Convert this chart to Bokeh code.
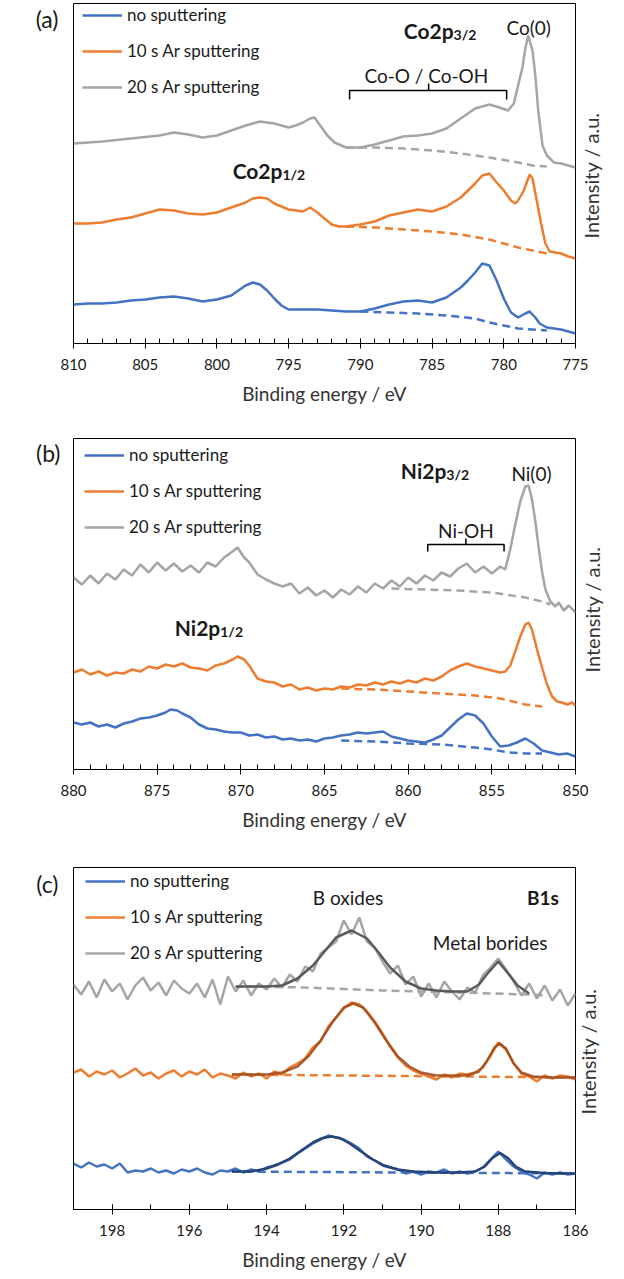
import math
from bokeh.plotting import figure
from bokeh.models import Range1d, Label, Legend, LegendItem, SingleIntervalTicker, LinearAxis, FixedTicker
from bokeh.layouts import column
from bokeh.embed import file_html
from bokeh.resources import INLINE

FONT = "Lato"
BLUE, ORANGE, GRAY = "#4472C4", "#ED7D31", "#A5A5A5"
BLUE_FIT, ORANGE_FIT, GRAY_FIT = "#264478", "#9C4A1A", "#5A5A5A"
series_labels = ["no sputtering", "10 s Ar sputtering", "20 s Ar sputtering"]
y_title = "Intensity  / a.u."

# ---------------- panel (a) Co2p ----------------
a_blue_be = [810, 809, 808, 807, 806, 805, 804, 803, 802, 801, 800, 799, 798.5, 798, 797.5, 797, 796.5, 796, 795.5, 795,
             794, 793, 792, 791, 790, 789, 788, 787, 786, 785, 784, 783, 782.5, 782, 781.5, 781, 780.5, 780, 779.5, 779,
             778.5, 778.2, 777.8, 777.5, 777, 776, 775]
a_blue_int = [39, 40, 40, 41, 43, 44, 46, 47, 45, 42, 44, 48, 53, 58, 61, 59, 53, 45, 38, 34,
              34, 34, 33, 32, 32, 35, 39, 42, 43, 41, 46, 56, 63, 71, 80, 78, 63, 45, 31, 26,
              30, 32, 26, 20, 16, 14, 10]
a_blue_bg_be = [790, 788, 786, 784, 782, 781, 780, 779, 778, 777]
a_blue_bg_int = [32, 31, 30, 28, 25, 21, 18, 15, 14, 13]

a_orange_be = [810, 809, 808, 807, 806, 805, 804, 803, 802, 801, 800, 799, 798, 797.5, 797, 796.5, 796, 795, 794, 793.5,
               793, 792.5, 792, 791.5, 791, 790, 789, 788, 787, 786, 785, 784, 783, 782, 781.5, 781, 780.5, 780, 779.5, 779.2,
               779, 778.6, 778.2, 778, 777.7, 777.4, 777.1, 776.8, 776, 775.5, 775]
a_orange_int = [120, 120, 121, 124, 126, 130, 134, 133, 130, 129, 131, 136, 141, 145, 146, 145, 140, 134, 132, 136,
                131, 125, 119, 117, 117, 119, 122, 128, 131, 134, 132, 137, 146, 160, 168, 170, 161, 153, 143, 140,
                143, 153, 169, 165, 143, 120, 100, 92, 90, 87, 85]
a_orange_bg_be = [791, 789, 787, 785, 783, 781, 779, 778, 777]
a_orange_bg_int = [117, 116, 114, 112, 109, 104, 96, 93, 90]

a_gray_be = [810, 808, 806, 804, 803, 802, 801, 800, 799, 798, 797, 796, 795, 794.5, 794, 793.5, 793.2, 792.8, 792.3, 791.8,
             791, 790, 789, 788, 787, 786, 785, 784, 783, 782, 781, 780.3, 779.7, 779.3, 779, 778.7, 778.5, 778.3, 778, 777.8,
             777.6, 777.3, 777, 776.5, 776, 775.5, 775]
a_gray_int = [200, 202, 205, 208, 211, 209, 206, 208, 213, 218, 222, 220, 216, 218, 221, 225, 226, 218, 208, 201,
              196, 196, 199, 203, 207, 208, 210, 215, 225, 235, 239, 236, 233, 240, 258, 276, 295, 308, 293, 268,
              233, 198, 188, 181, 180, 178, 176]
a_gray_bg_be = [791, 789, 787, 785, 783, 781, 779, 778, 777]
a_gray_bg_int = [196, 196, 195, 193, 190, 186, 181, 178, 177]

a_bracket_be = [790.75, 790.75, 785.24, 785.24, 785.24, 779.8, 779.8]
a_bracket_int = [244, 253, 253, 260, 253, 253, 244]

# ---------------- panel (b) Ni2p ----------------
b_gray_be = [880, 879.5, 879, 878.5, 878, 877.5, 877, 876.5, 876, 875.5, 875, 874.5, 874, 873.5, 873, 872.5, 872, 871.5, 871, 870.5,
             870.2, 869.8, 869.5, 869, 868.5, 868, 867.5, 867, 866.5, 866, 865.5, 865, 864.5, 864, 863.5, 863, 862.5, 862, 861.5, 861,
             860.5, 860, 859.5, 859, 858.5, 858, 857.5, 857, 856.5, 856, 855.5, 855, 854.5, 854.2, 853.9, 853.6, 853.3, 853.0, 852.8, 852.6,
             852.4, 852.2, 852.0, 851.8, 851.5, 851.2, 851.0, 850.7, 850.4, 850.0]
b_gray_int = [192, 185, 194, 186, 196, 190, 200, 194, 205, 197, 207, 199, 206, 198, 204, 197, 207, 203, 212, 218,
              222, 212, 207, 195, 190, 186, 183, 186, 176, 182, 174, 179, 172, 180, 175, 183, 177, 186, 181, 189,
              183, 192, 186, 194, 189, 197, 193, 201, 206, 197, 203, 196, 203, 200, 220, 245, 268, 283, 284, 270,
              248, 222, 198, 180, 168, 163, 167, 159, 164, 157]
b_gray_bg_be = [861, 859, 857, 855, 853, 852, 851.5]
b_gray_bg_int = [181, 180, 179, 177, 172, 168, 165]

b_orange_be = [880, 879.5, 879, 878.5, 878, 877.5, 877, 876.5, 876, 875.5, 875, 874.5, 874, 873.5, 873, 872.5, 872, 871.5, 871, 870.5,
               870.2, 869.8, 869.5, 869.2, 869, 868.5, 868, 867.5, 867, 866.5, 866, 865.5, 865, 864.5, 864, 863.5, 863, 862.5, 862, 861.5,
               861, 860.5, 860, 859.5, 859, 858.5, 858, 857.5, 857, 856.5, 856, 855.5, 855, 854.5, 854.2, 853.9, 853.6, 853.3, 853.0, 852.8,
               852.6, 852.3, 852.0, 851.7, 851.4, 851.1, 850.8, 850.5, 850.2, 850]
b_orange_int = [97, 100, 95, 98, 94, 97, 96, 100, 98, 103, 101, 105, 103, 106, 102, 101, 99, 104, 106, 110,
                113, 110, 104, 96, 91, 88, 87, 83, 85, 80, 82, 79, 81, 80, 83, 82, 85, 84, 87, 85,
                88, 86, 89, 87, 91, 89, 93, 99, 103, 106, 103, 101, 99, 97, 98, 104, 118, 133, 145, 147,
                140, 120, 102, 85, 73, 68, 67, 65, 67, 64]
b_orange_bg_be = [864, 862, 860, 858, 856, 854.5, 853, 852]
b_orange_bg_int = [81, 80, 78, 76, 74, 71, 65, 63]

b_blue_be = [880, 879.5, 879, 878.5, 878, 877.5, 877, 876.5, 876, 875.5, 875, 874.5, 874.2, 873.8, 873.5, 873, 872.5, 872, 871.5, 871,
             870.5, 870, 869.5, 869, 868.5, 868, 867.5, 867, 866.5, 866, 865.5, 865, 864.5, 864, 863.5, 863, 862.5, 862, 861.5, 861,
             860.5, 860, 859.5, 859, 858.5, 858, 857.5, 857, 856.5, 856, 855.5, 855, 854.5, 854, 853.5, 853, 852.5, 852, 851.5, 851,
             850.5, 850]
b_blue_int = [47, 45, 47, 43, 45, 42, 46, 48, 51, 52, 54, 57, 60, 59, 56, 52, 45, 41, 40, 38,
              37, 37, 34, 35, 32, 33, 30, 31, 29, 30, 28, 31, 32, 34, 35, 37, 36, 37, 38, 33,
              31, 29, 28, 27, 30, 34, 42, 50, 56, 54, 46, 33, 23, 24, 27, 31, 26, 19, 17, 15,
              16, 13]
b_blue_bg_be = [864, 862, 860, 858, 856, 855, 854, 853, 852]
b_blue_bg_int = [29, 28, 26, 25, 22, 20, 17, 16, 16]

b_bracket_be = [858.83, 858.83, 856.55, 856.55, 856.55, 854.27, 854.27]
b_bracket_int = [218, 225, 225, 231, 225, 225, 218]

# ---------------- panel (c) B1s ----------------
c_be = [199.0, 198.8, 198.6, 198.4, 198.2, 198.0, 197.8, 197.6, 197.4, 197.2, 197.0, 196.8, 196.6, 196.4, 196.2, 196.0,
        195.8, 195.6, 195.4, 195.2, 195.0, 194.8, 194.6, 194.4, 194.2, 194.0, 193.8, 193.6, 193.4, 193.2, 193.0, 192.8,
        192.6, 192.4, 192.2, 192.0, 191.8, 191.6, 191.4, 191.2, 191.0, 190.8, 190.6, 190.4, 190.2, 190.0, 189.8, 189.6,
        189.4, 189.2, 189.0, 188.8, 188.6, 188.4, 188.2, 188.0, 187.8, 187.6, 187.4, 187.2, 187.0, 186.8, 186.6, 186.4,
        186.2, 186.0]
c_gray_int = [225, 215, 228, 212, 230, 218, 226, 210, 224, 232, 219, 227, 214, 229, 221, 216, 226, 212, 230, 205,
              233, 218, 229, 214, 226, 220, 231, 222, 235, 228, 243, 238, 256, 262, 268, 289, 275, 292, 268, 262,
              248, 236, 244, 225, 233, 213, 226, 212, 228, 218, 210, 222, 217, 234, 242, 251, 240, 228, 214, 226,
              211, 224, 209, 220, 204, 216]
c_orange_int = [137, 140, 133, 138, 135, 139, 132, 136, 141, 134, 137, 131, 136, 139, 133, 138, 135, 140, 132, 136,
                134, 131, 137, 133, 136, 131, 138, 135, 142, 146, 151, 162, 168, 183, 192, 201, 207, 205, 198, 188,
                176, 163, 152, 144, 139, 136, 133, 130, 135, 132, 136, 135, 137, 142, 154, 167, 160, 146, 136, 133,
                128, 134, 131, 134, 133, 130]
c_blue_int = [46, 42, 47, 43, 45, 41, 46, 37, 39, 38, 41, 37, 39, 36, 40, 38, 41, 37, 35, 39,
              38, 41, 37, 40, 38, 42, 44, 47, 50, 56, 61, 66, 70, 74, 72, 70, 66, 61, 53, 49,
              44, 42, 40, 36, 38, 35, 38, 37, 40, 36, 38, 36, 38, 42, 50, 58, 50, 43, 38, 35,
              31, 37, 35, 37, 35, 36]

c_gray_fit_be = [194.8, 194.4, 194.0, 193.6, 193.2, 192.8, 192.5, 192.2, 191.8, 191.4, 191.1, 190.8, 190.4, 190.0,
                 189.6, 189.2, 188.8, 188.5, 188.3, 188.0, 187.7, 187.5, 187.2]
c_gray_fit_int = [223, 223, 223, 224, 231, 244, 258, 272, 279, 271, 257, 242, 228, 221, 219, 218, 218, 225, 235, 248,
                  234, 224, 216]
c_gray_bg_be = [194.8, 193, 191, 189, 187.2, 186.8]
c_gray_bg_int = [223, 222, 219, 217, 215, 214]

c_orange_fit_be = [194.9, 194.4, 194.0, 193.6, 193.2, 192.9, 192.6, 192.3, 192.0, 191.75, 191.5, 191.2, 190.9, 190.6,
                   190.3, 190.0, 189.6, 189.2, 188.8, 188.5, 188.3, 188.1, 187.96, 187.8, 187.6, 187.4, 187.1, 186.6, 186.0]
c_orange_fit_int = [135, 135, 135, 137, 143, 154, 169, 187, 202, 206, 202, 187, 169, 153, 143, 137, 134, 134, 134, 138,
                    148, 162, 166, 161, 146, 137, 133, 132, 132]
c_orange_bg_be = [194.9, 186.0]
c_orange_bg_int = [135, 132]

c_blue_fit_be = [194.9, 194.4, 194.0, 193.7, 193.4, 193.1, 192.8, 192.55, 192.33, 192.1, 191.85, 191.55, 191.25, 190.95,
                 190.6, 190.2, 189.6, 189.0, 188.6, 188.35, 188.15, 187.95, 187.75, 187.55, 187.3, 186.8, 186.0]
c_blue_fit_int = [38, 38, 41, 45, 51, 59, 67, 71.5, 73, 71.5, 66, 58, 50, 44, 40, 38, 37, 37, 38, 43,
                  51.5, 56.5, 51.5, 43, 38, 36.5, 36]
c_blue_bg_be = [194.9, 186.0]
c_blue_bg_int = [38, 36]

TEXT = "#1a1a1a"
LW = 2.5
DASH = "8 5"


def base_fig(height, xr, yr, left, right, top, bottom, interval, nminor, panel_tag, tag_y, tag_standoff,
             ytitle_at, ytitle_standoff):
    p = figure(width=624, height=height, x_range=Range1d(*xr), y_range=Range1d(*yr),
               output_backend="svg", toolbar_location=None, y_axis_location=None,
               min_border_left=left, min_border_right=right, min_border_top=top, min_border_bottom=bottom,
               outline_line_color="black", outline_line_width=1,
               background_fill_color="white", border_fill_color="white")
    p.xgrid.visible = False
    p.ygrid.visible = False
    ax = p.xaxis[0]
    ax.ticker = SingleIntervalTicker(interval=interval, num_minor_ticks=nminor)
    ax.axis_label = "Binding energy / eV"
    ax.axis_label_text_font = FONT
    ax.axis_label_text_font_size = "19px"
    ax.axis_label_text_font_style = "normal"
    ax.axis_label_text_color = "#333333"
    ax.axis_label_standoff = 9
    ax.major_label_text_font = FONT
    ax.major_label_text_font_size = "15px"
    ax.major_label_text_color = TEXT
    ax.major_label_standoff = 10
    ax.axis_line_color = "black"
    ax.major_tick_line_color = "black"
    ax.minor_tick_line_color = "black"
    ax.major_tick_in = 5
    ax.major_tick_out = 5
    ax.minor_tick_in = 5
    ax.minor_tick_out = 0

    # panel tag "(a)" etc. as a tick label of a bare left axis
    la = LinearAxis(ticker=FixedTicker(ticks=[tag_y], minor_ticks=[]),
                    major_label_overrides={tag_y: panel_tag},
                    axis_line_color=None, major_tick_line_color=None, minor_tick_line_color=None,
                    major_tick_in=0, major_tick_out=0,
                    major_label_standoff=tag_standoff, major_label_text_font=FONT,
                    major_label_text_font_size="23px", major_label_text_color=TEXT)
    p.add_layout(la, "left")

    # right side "Intensity / a.u." as a rotated tick label of a bare right axis
    ra = LinearAxis(ticker=FixedTicker(ticks=[ytitle_at], minor_ticks=[]),
                    major_label_overrides={ytitle_at: y_title},
                    major_label_orientation=math.pi / 2,
                    axis_line_color=None, major_tick_line_color=None, minor_tick_line_color=None,
                    major_tick_in=0, major_tick_out=0,
                    major_label_standoff=ytitle_standoff, major_label_text_font=FONT,
                    major_label_text_font_size="20px", major_label_text_color="#333333")
    p.add_layout(ra, "right")
    return p


def add_legend(p, renderers, x, y):
    items = [LegendItem(label=lab, renderers=[r]) for lab, r in zip(series_labels, renderers)]
    leg = Legend(items=items, location=(x, y), padding=0, margin=0, spacing=15,
                 glyph_width=40, glyph_height=20, label_height=20, label_standoff=5,
                 label_text_font=FONT, label_text_font_size="17px", label_text_color=TEXT,
                 border_line_color=None, background_fill_alpha=0)
    p.add_layout(leg)


def add_text(p, x, y, text, size="19px", bold=False, align="center", y_offset=0):
    p.add_layout(Label(x=x, y=y, text=text, text_font=FONT, text_font_size=size,
                       text_font_style="bold" if bold else "normal", text_color=TEXT,
                       text_align=align, text_baseline="alphabetic", y_offset=y_offset))


def add_sub_label(p, x, y, main, sub):
    add_text(p, x, y, main, size="21px", bold=True, align="right")
    add_text(p, x, y, sub, size="14px", bold=True, align="left", y_offset=-4)


# ---------- figure (a) ----------
pa = base_fig(420, (810, 775), (0, 340), 73, 49, 3, 77, 5, 5, "(a)", 325, 15, 105, 15)
ra_b = pa.line(a_blue_be, a_blue_int, line_color=BLUE, line_width=LW)
ra_o = pa.line(a_orange_be, a_orange_int, line_color=ORANGE, line_width=LW)
ra_g = pa.line(a_gray_be, a_gray_int, line_color=GRAY, line_width=LW)
pa.line(a_blue_bg_be, a_blue_bg_int, line_color=BLUE, line_width=LW, line_dash=DASH)
pa.line(a_orange_bg_be, a_orange_bg_int, line_color=ORANGE, line_width=LW, line_dash=DASH)
pa.line(a_gray_bg_be, a_gray_bg_int, line_color=GRAY, line_width=LW, line_dash=DASH)
pa.line(a_bracket_be, a_bracket_int, line_color="black", line_width=1.5)
add_legend(pa, [ra_b, ra_o, ra_g], 9, 246)
add_sub_label(pa, 783.5, 313, "Co2p", "3/2")
add_sub_label(pa, 795.43, 173, "Co2p", "1/2")
add_text(pa, 778.27, 316, "Co(0)")
add_text(pa, 785.4, 268, "Co-O / Co-OH")

# ---------- figure (b) ----------
pb = base_fig(425, (880, 850), (0, 331), 66, 45, 18, 76, 5, 5, "(b)", 317, 13, 97, 16)
rb_b = pb.line(b_blue_be, b_blue_int, line_color=BLUE, line_width=LW)
rb_o = pb.line(b_orange_be, b_orange_int, line_color=ORANGE, line_width=LW)
rb_g = pb.line(b_gray_be, b_gray_int, line_color=GRAY, line_width=LW)
pb.line(b_blue_bg_be, b_blue_bg_int, line_color=BLUE, line_width=LW, line_dash=DASH)
pb.line(b_orange_bg_be, b_orange_bg_int, line_color=ORANGE, line_width=LW, line_dash=DASH)
pb.line(b_gray_bg_be, b_gray_bg_int, line_color=GRAY, line_width=LW, line_dash=DASH)
pb.line(b_bracket_be, b_bracket_int, line_color="black", line_width=1.5)
add_legend(pb, [rb_b, rb_o, rb_g], 11, 232)
add_sub_label(pb, 857.72, 299, "Ni2p", "3/2")
add_sub_label(pb, 871.23, 142, "Ni2p", "1/2")
add_text(pb, 852.63, 296, "Ni(0)")
add_text(pb, 856.55, 239, "Ni-OH")

# ---------- figure (c) ----------
pc = base_fig(434, (199, 186), (0, 342), 58, 39, 22, 70, 2, 2, "(c)", 326, 15, 95, 12)
rc_b = pc.line(c_be, c_blue_int, line_color=BLUE, line_width=LW)
rc_o = pc.line(c_be, c_orange_int, line_color=ORANGE, line_width=LW)
rc_g = pc.line(c_be, c_gray_int, line_color=GRAY, line_width=LW)
pc.line(c_blue_bg_be, c_blue_bg_int, line_color=BLUE, line_width=LW, line_dash=DASH)
pc.line(c_orange_bg_be, c_orange_bg_int, line_color=ORANGE, line_width=LW, line_dash=DASH)
pc.line(c_gray_bg_be, c_gray_bg_int, line_color=GRAY, line_width=LW, line_dash=DASH)
pc.line(c_blue_fit_be, c_blue_fit_int, line_color=BLUE_FIT, line_width=LW)
pc.line(c_orange_fit_be, c_orange_fit_int, line_color=ORANGE_FIT, line_width=LW, line_alpha=0.85)
pc.line(c_gray_fit_be, c_gray_fit_int, line_color=GRAY_FIT, line_width=LW)
add_legend(pc, [rc_b, rc_o, rc_g], 12, 246)
add_text(pc, 191.89, 312, "B oxides")
add_text(pc, 186.43, 312, "B1s", size="19px", bold=True, align="right")
add_text(pc, 188.21, 267, "Metal borides")

layout = column(pa, pb, pc, spacing=0)
open("out.html", "w").write(file_html(layout, INLINE))
